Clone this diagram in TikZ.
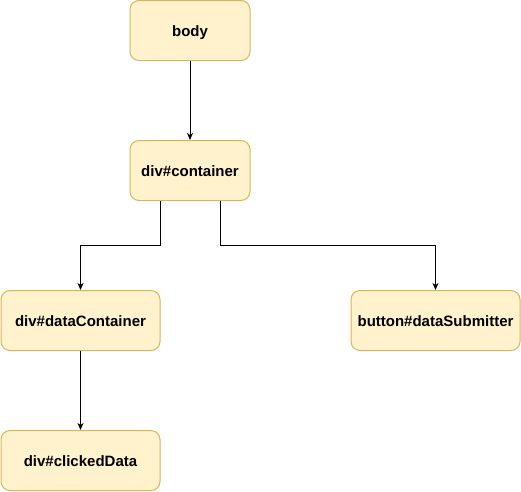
\documentclass[tikz,border=0pt]{standalone}
\usepackage{fontspec}
\setmainfont{Liberation Sans}
\usetikzlibrary{arrows.meta}
\definecolor{boxfill}{HTML}{FFF2CC}
\definecolor{boxline}{HTML}{D6B656}
\begin{document}
\begin{tikzpicture}[x=1pt,y=-1pt,
  elem/.style={draw=boxline,fill=boxfill,line width=1pt,rounded corners=9pt,
    minimum height=60pt,inner sep=0pt,text height=11pt,text depth=0pt,
    font=\fontsize{15}{18}\selectfont\bfseries},
  conn/.style={draw=black,line width=1pt,-{Stealth[length=7pt,width=6pt,inset=2pt]}}]
\useasboundingbox (0,0) rectangle (521,491);
\node[elem,minimum width=120pt] (body) at (190,30.5) {body};
\node[elem,minimum width=120pt] (cont) at (190,170.5) {div\#container};
\node[elem,minimum width=159pt] (dc) at (80.5,320.5) {div\#dataContainer};
\node[elem,minimum width=169pt] (bs) at (435.5,320.5) {button\#dataSubmitter};
\node[elem,minimum width=159pt] (cd) at (80.5,460.5) {div\#clickedData};
\coordinate (cl) at (160.5,0);
\coordinate (cr) at (220.5,0);
\draw[conn] (body) -- (cont);
\draw[conn] (cl |- cont.south) -- (160.5,245) -| (dc.north);
\draw[conn] (cr |- cont.south) -- (220.5,245) -| (bs.north);
\draw[conn] (dc) -- (cd);
\end{tikzpicture}
\end{document}
